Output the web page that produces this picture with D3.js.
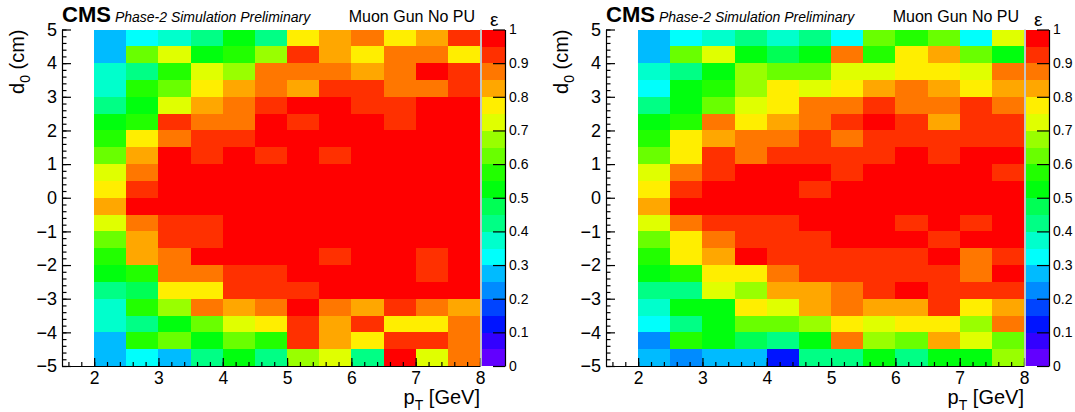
<!DOCTYPE html>
<html><head><meta charset="utf-8">
<script src="https://cdn.jsdelivr.net/npm/d3@7"></script>
<style>
body{margin:0;background:#fff;}
svg text{font-family:"Liberation Sans",Arial,Helvetica,sans-serif;fill:#000;}
</style></head>
<body><svg id="c" width="1075" height="412"></svg>
<script>
// pT bin edges (GeV) and d0 bin edges (cm)
const ptEdges = [2,2.5,3,3.5,4,4.5,5,5.5,6,6.5,7,7.5,8];
const d0Edges = [5,4.5,4,3.5,3,2.5,2,1.5,1,0.5,0,-0.5,-1,-1.5,-2,-2.5,-3,-3.5,-4,-4.5,-5]; // top to bottom
const xTicks = [2,3,4,5,6,7,8];
const yTicks = [-5,-4,-3,-2,-1,0,1,2,3,4,5];
const zTicks = [0,0.1,0.2,0.3,0.4,0.5,0.6,0.7,0.8,0.9,1];
const zTickLabels = ["0","0.1","0.2","0.3","0.4","0.5","0.6","0.7","0.8","0.9","1"];
// ROOT pretty palette, 20 contour levels
const palette = ["#6200ff","#3300ff","#0014ff","#0044ff","#008bff","#00bbff","#00fffc","#00ffcc","#00ff85","#00ff55",
                 "#00ff0e","#22ff00","#69ff00","#99ff00","#e0ff00","#ffee00","#ffa700","#ff7700","#ff3000","#ff0000"];
// efficiency; row 0 = d0 in [4.5,5], last row = d0 in [-5,-4.5]; columns = pT bins
const effLeft = [
 [.28,.33,.38,.43,.53,.43,.78,.83,.88,.78,.83,.93],
 [.28,.63,.73,.53,.58,.68,.93,.83,.78,.88,.88,.78],
 [.38,.43,.58,.73,.68,.88,.88,.88,.83,.88,.98,.93],
 [.38,.58,.63,.78,.83,.88,.83,.93,.93,.88,.88,.93],
 [.43,.53,.73,.83,.88,.93,.98,.98,.93,.93,.98,.98],
 [.53,.58,.93,.88,.88,.98,.93,.98,.98,.93,.98,.98],
 [.58,.78,.88,.93,.93,.98,.98,.98,.98,.98,.98,.98],
 [.63,.83,.98,.93,.98,.93,.98,.93,.98,.98,.98,.98],
 [.73,.88,.98,.98,.98,.98,.98,.98,.98,.98,.98,.98],
 [.78,.93,.98,.98,.98,.98,.98,.98,.98,.98,.98,.98],
 [.83,.98,.98,.98,.98,.98,.98,.98,.98,.98,.98,.98],
 [.73,.88,.93,.93,.98,.98,.98,.98,.98,.98,.98,.98],
 [.63,.83,.93,.93,.98,.98,.98,.98,.98,.98,.98,.98],
 [.58,.83,.88,.98,.98,.98,.98,.93,.98,.98,.93,.98],
 [.53,.58,.88,.88,.93,.93,.98,.98,.98,.98,.93,.98],
 [.43,.48,.78,.78,.93,.93,.93,.98,.98,.98,.98,.98],
 [.38,.58,.68,.88,.83,.88,.98,.88,.83,.93,.88,.83],
 [.38,.43,.53,.63,.73,.78,.93,.83,.93,.78,.78,.88],
 [.28,.58,.63,.53,.63,.58,.93,.83,.78,.93,.93,.88],
 [.28,.33,.28,.43,.53,.43,.68,.73,.43,.98,.73,.88]
];
const effRight = [
 [.28,.33,.38,.43,.38,.43,.33,.63,.58,.63,.33,.73],
 [.28,.63,.73,.53,.48,.53,.88,.58,.78,.83,.63,.53],
 [.38,.43,.53,.68,.63,.63,.73,.73,.78,.78,.73,.88],
 [.33,.53,.58,.68,.78,.73,.78,.83,.88,.83,.78,.83],
 [.43,.53,.63,.73,.78,.88,.88,.93,.88,.88,.93,.88],
 [.53,.58,.88,.78,.83,.88,.93,.98,.93,.83,.93,.93],
 [.58,.78,.83,.88,.88,.93,.88,.93,.93,.93,.93,.93],
 [.63,.78,.93,.88,.93,.93,.93,.93,.98,.93,.98,.98],
 [.73,.88,.93,.98,.98,.98,.93,.98,.98,.98,.98,.93],
 [.78,.93,.98,.98,.98,.93,.98,.98,.98,.98,.98,.98],
 [.83,.98,.98,.98,.98,.98,.98,.98,.98,.98,.98,.98],
 [.73,.88,.93,.93,.93,.98,.98,.98,.93,.98,.93,.98],
 [.63,.78,.88,.93,.93,.93,.98,.98,.98,.93,.98,.98],
 [.58,.78,.83,.98,.93,.93,.93,.93,.93,.98,.88,.93],
 [.53,.58,.78,.78,.88,.93,.93,.93,.93,.93,.88,.98],
 [.43,.43,.73,.68,.83,.83,.88,.93,.98,.93,.93,.93],
 [.38,.53,.53,.78,.73,.83,.88,.83,.83,.93,.78,.83],
 [.33,.43,.53,.63,.63,.68,.78,.73,.78,.78,.68,.88],
 [.23,.58,.53,.48,.43,.53,.88,.68,.63,.83,.73,.63],
 [.28,.23,.28,.28,.13,.43,.43,.53,.43,.53,.53,.68]
];
const titleCMS = "CMS";
const titleSub = "Phase-2 Simulation Preliminary";
const titleRight = "Muon Gun No PU";

const svg = d3.select("#c");
const color = d3.scaleQuantize().domain([0,1]).range(palette);
const minorX = d3.range(16,81,2).map(v=>v/10);
const minorY = d3.range(-50,51,2).map(v=>v/10);

function panel(data, x0){
  const W = 418, top = 29.5, bot = 366;
  const x = d3.scaleLinear().domain([1.5,8]).range([x0, x0+W]);
  const y = d3.scaleLinear().domain([-5,5]).range([bot, top]);
  const g = svg.append("g");
  const cells = [];
  data.forEach((row,r)=>row.forEach((v,c)=>cells.push({r,c,v})));
  g.append("g").attr("shape-rendering","crispEdges").selectAll("rect").data(cells).join("rect")
    .attr("x",d=>x(ptEdges[d.c])).attr("width",d=>x(ptEdges[d.c+1])-x(ptEdges[d.c])+0.3)
    .attr("y",d=>y(d0Edges[d.r])).attr("height",d=>y(d0Edges[d.r+1])-y(d0Edges[d.r])+0.3)
    .attr("fill",d=>color(d.v));
  // axes
  const ax = g.append("g").attr("transform",`translate(0,${bot})`)
    .call(d3.axisBottom(x).tickValues(xTicks).tickSize(-8).tickSizeOuter(0).tickPadding(6).tickFormat(d3.format("d")));
  g.append("g").attr("transform",`translate(0,${bot})`)
    .call(d3.axisBottom(x).tickValues(minorX).tickSize(-4).tickSizeOuter(0).tickFormat(""))
    .select(".domain").remove();
  const ay = g.append("g").attr("transform",`translate(${x0},0)`)
    .call(d3.axisLeft(y).tickValues(yTicks).tickSize(-9).tickSizeOuter(0).tickPadding(5).tickFormat(d3.format("d")));
  g.append("g").attr("transform",`translate(${x0},0)`)
    .call(d3.axisLeft(y).tickValues(minorY).tickSize(-4.5).tickSizeOuter(0).tickFormat(""))
    .select(".domain").remove();
  g.selectAll(".tick line, .domain").attr("stroke","#000").attr("stroke-width",1.2);
  ax.selectAll("text").attr("font-size",17.5);
  ay.selectAll("text").attr("font-size",18);
  // colorbar
  const zc = d3.scaleLinear().domain([0,1]).range([bot, top]);
  const cbx = x0+420, cbw = 23;
  g.append("line").attr("x1",x0+419).attr("x2",x0+419).attr("y1",top).attr("y2",bot).attr("stroke","#b0b0b0").attr("stroke-width",1.5);
  g.append("g").attr("shape-rendering","crispEdges").selectAll("rect").data(palette).join("rect")
    .attr("x",cbx).attr("width",cbw)
    .attr("y",(d,i)=>zc((i+1)/20)).attr("height",(d,i)=>zc(i/20)-zc((i+1)/20)+0.3)
    .attr("fill",d=>d);
  const az = g.append("g").attr("transform",`translate(${cbx+cbw},0)`)
    .call(d3.axisRight(zc).tickValues(zTicks).tickSize(-12).tickSizeOuter(0).tickPadding(4).tickFormat((d,i)=>zTickLabels[i]));
  az.selectAll(".tick line, .domain").attr("stroke","#000").attr("stroke-width",1.2);
  az.selectAll("text").attr("font-size",14);
  g.append("text").attr("x",cbx+8).attr("y",26).attr("font-size",19).text("ε");
  // titles
  const t = g.append("text").attr("x",x0).attr("y",22);
  t.append("tspan").attr("font-weight","bold").attr("font-size",22).text(titleCMS);
  t.append("tspan").attr("font-style","italic").attr("font-size",14).attr("dx",4).text(titleSub);
  g.append("text").attr("x",x0+413).attr("y",22).attr("text-anchor","end").attr("font-size",16).text(titleRight);
  // axis titles
  const xt = g.append("text").attr("x",x0+418).attr("y",404).attr("text-anchor","end").attr("font-size",20);
  xt.append("tspan").text("p");
  xt.append("tspan").attr("font-size",14).attr("dy",6).text("T");
  xt.append("tspan").attr("dy",-6).text(" [GeV]");
  const yt = g.append("text").attr("transform",`translate(${x0-38},${top}) rotate(-90)`).attr("text-anchor","end").attr("font-size",20);
  yt.append("tspan").text("d");
  yt.append("tspan").attr("font-size",14).attr("dy",6).text("0");
  yt.append("tspan").attr("dy",-6).text(" (cm)");
}
panel(effLeft, 62);
panel(effRight, 606);
</script></body></html>
